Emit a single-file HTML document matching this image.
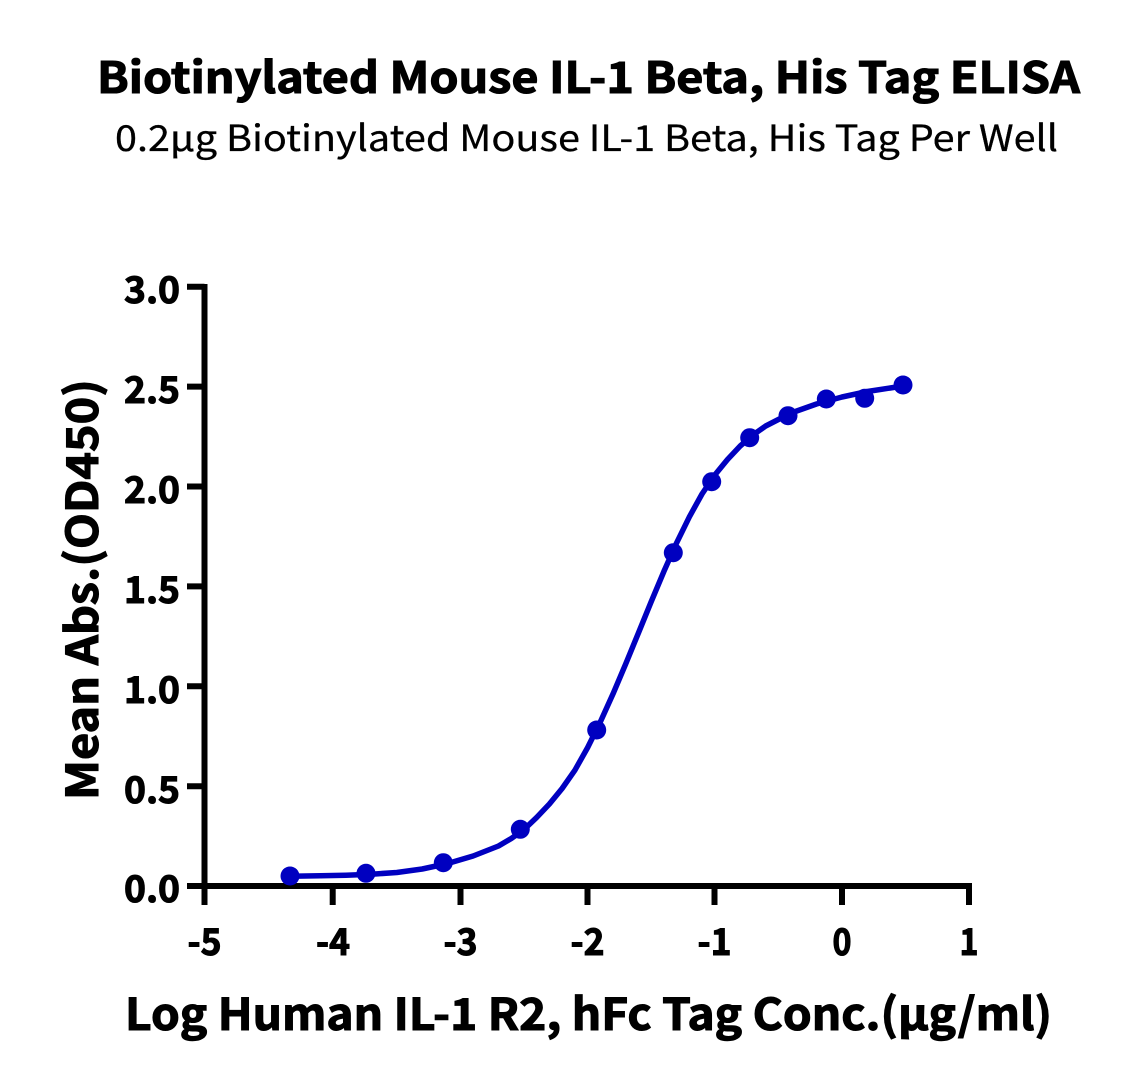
<!DOCTYPE html>
<html>
<head>
<meta charset="utf-8">
<style>
  html, body { margin: 0; padding: 0; background: #ffffff; }
  svg { display: block; }
  text { font-family: "Noto Sans CJK JP", "Liberation Sans", sans-serif; fill: #000; }
  .b { font-weight: bold; stroke: #000; stroke-width: 1.1; }
  .r { stroke: #000; stroke-width: 0.3; }
</style>
</head>
<body>
<svg width="1123" height="1086" viewBox="0 0 1123 1086" xmlns="http://www.w3.org/2000/svg">
  <rect x="0" y="0" width="1123" height="1086" fill="#ffffff"/>

  <!-- Titles -->
  <text class="b" x="97" y="93" font-size="43" textLength="983" lengthAdjust="spacingAndGlyphs">Biotinylated Mouse IL-1 Beta, His Tag ELISA</text>
  <text class="r" x="115" y="151" font-size="36" textLength="943" lengthAdjust="spacingAndGlyphs">0.2µg Biotinylated Mouse IL-1 Beta, His Tag Per Well</text>

  <!-- Axes -->
  <g stroke="#000" stroke-width="6" fill="none" stroke-linecap="butt">
    <line x1="204.5" y1="284" x2="204.5" y2="889"/>
    <line x1="187" y1="886" x2="972" y2="886"/>
    <!-- y ticks -->
    <line x1="187" y1="286.7" x2="204.5" y2="286.7"/>
    <line x1="187" y1="386.6" x2="204.5" y2="386.6"/>
    <line x1="187" y1="486.5" x2="204.5" y2="486.5"/>
    <line x1="187" y1="586.4" x2="204.5" y2="586.4"/>
    <line x1="187" y1="686.3" x2="204.5" y2="686.3"/>
    <line x1="187" y1="786.2" x2="204.5" y2="786.2"/>
    <!-- x ticks -->
    <line x1="204.5" y1="886" x2="204.5" y2="905"/>
    <line x1="332.7" y1="886" x2="332.7" y2="905"/>
    <line x1="460.5" y1="886" x2="460.5" y2="905"/>
    <line x1="587.5" y1="886" x2="587.5" y2="905"/>
    <line x1="714.5" y1="886" x2="714.5" y2="905"/>
    <line x1="842" y1="886" x2="842" y2="905"/>
    <line x1="969" y1="886" x2="969" y2="905"/>
  </g>

  <!-- Y tick labels -->
  <g font-size="37" text-anchor="end">
    <text class="b" x="180" y="303" textLength="56" lengthAdjust="spacingAndGlyphs">3.0</text>
    <text class="b" x="180" y="403" textLength="56" lengthAdjust="spacingAndGlyphs">2.5</text>
    <text class="b" x="180" y="503" textLength="56" lengthAdjust="spacingAndGlyphs">2.0</text>
    <text class="b" x="180" y="603" textLength="56" lengthAdjust="spacingAndGlyphs">1.5</text>
    <text class="b" x="180" y="703" textLength="56" lengthAdjust="spacingAndGlyphs">1.0</text>
    <text class="b" x="180" y="803" textLength="56" lengthAdjust="spacingAndGlyphs">0.5</text>
    <text class="b" x="180" y="902" textLength="56" lengthAdjust="spacingAndGlyphs">0.0</text>
  </g>

  <!-- X tick labels -->
  <g font-size="37">
    <text class="b" x="187.5" y="955" textLength="34" lengthAdjust="spacingAndGlyphs">-5</text>
    <text class="b" x="316" y="955" textLength="34" lengthAdjust="spacingAndGlyphs">-4</text>
    <text class="b" x="443.5" y="955" textLength="34" lengthAdjust="spacingAndGlyphs">-3</text>
    <text class="b" x="570.5" y="955" textLength="34" lengthAdjust="spacingAndGlyphs">-2</text>
    <text class="b" x="697.5" y="955" textLength="34" lengthAdjust="spacingAndGlyphs">-1</text>
    <text class="b" x="832.5" y="955" textLength="19" lengthAdjust="spacingAndGlyphs">0</text>
    <text class="b" x="959.5" y="955" textLength="19" lengthAdjust="spacingAndGlyphs">1</text>
  </g>

  <!-- Axis titles -->
  <text class="b" x="125" y="1030" font-size="44" textLength="927" lengthAdjust="spacingAndGlyphs">Log Human IL-1 R2, hFc Tag Conc.(µg/ml)</text>
  <text class="b" transform="translate(98,800) rotate(-90)" x="0" y="0" font-size="44" textLength="421" lengthAdjust="spacingAndGlyphs">Mean Abs.(OD450)</text>

  <!-- Curve -->
  <polyline fill="none" stroke="#0000c0" stroke-width="5.5" stroke-linejoin="round" stroke-linecap="round"
    points="290.0,876.2 320.5,875.8 345.9,875.2 371.4,874.2 396.8,872.5 422.2,869.0 447.7,863.5 473.1,856.0 498.5,846.0 511.3,838.5 524.0,829.5 536.6,817.5 549.4,804.0 562.1,788.5 574.9,770.2 587.6,747.6 600.3,722.0 613.0,693.9 625.7,663.9 638.5,632.8 651.2,601.7 663.9,571.4 676.6,542.9 689.4,516.8 702.0,494.0 714.8,475.0 727.5,459.5 740.2,446.0 752.9,435.0 765.7,426.0 791.1,413.0 816.5,404.0 842.0,397.0 867.4,391.5 903.0,386.0"/>

  <!-- Data points -->
  <g fill="#0000c0">
    <circle cx="290" cy="876" r="9.5"/>
    <circle cx="366" cy="873.3" r="9.5"/>
    <circle cx="443.3" cy="862.7" r="9.5"/>
    <circle cx="520.3" cy="829.3" r="9.5"/>
    <circle cx="596.7" cy="730" r="9.5"/>
    <circle cx="673.3" cy="552.7" r="9.5"/>
    <circle cx="711.7" cy="481.7" r="9.5"/>
    <circle cx="749.7" cy="437.7" r="9.5"/>
    <circle cx="788" cy="415.7" r="9.5"/>
    <circle cx="826.3" cy="399" r="9.5"/>
    <circle cx="864.7" cy="398.3" r="9.5"/>
    <circle cx="903" cy="385" r="9.5"/>
  </g>
</svg>
</body>
</html>
